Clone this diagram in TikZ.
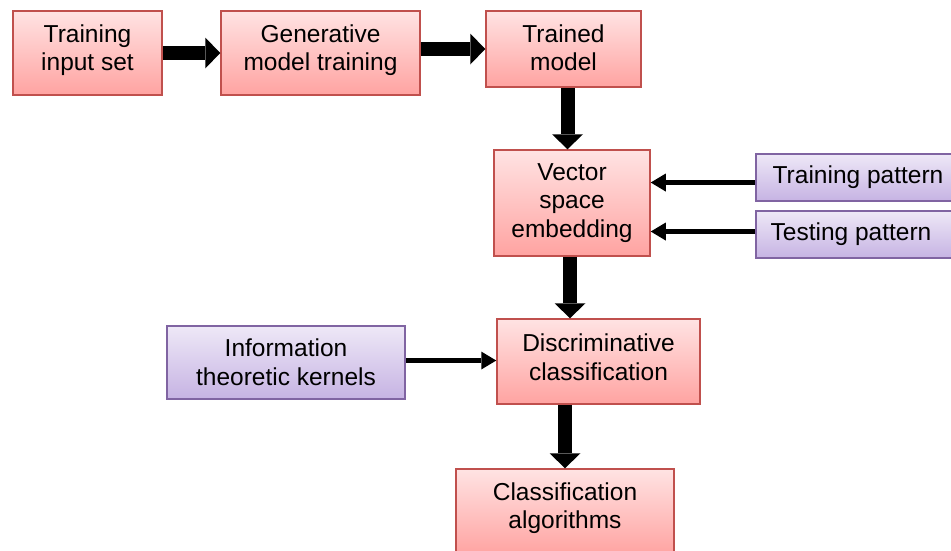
\documentclass[tikz,border=0pt]{standalone}
\usepackage{fontspec}
\setmainfont{Liberation Sans}
\usetikzlibrary{arrows.meta}
\definecolor{redtop}{HTML}{FFE3E3}
\definecolor{redbot}{HTML}{FFA3A1}
\definecolor{redline}{HTML}{C0504D}
\definecolor{purtop}{HTML}{EEE8F7}
\definecolor{purbot}{HTML}{C6B3E3}
\definecolor{purline}{HTML}{8064A2}
\newcommand\mybt[2]{\raisebox{#1}[\height][\depth]{\begin{tabular}{@{}c@{}}#2\end{tabular}}}
\tikzset{
  redbox/.style={draw=redline, line width=1.5pt, top color=redtop, bottom color=redbot,
    align=center, inner sep=0pt, font=\fontsize{24.5}{28.5}\selectfont},
  purbox/.style={draw=purline, line width=1.5pt, top color=purtop, bottom color=purbot,
    align=center, inner sep=0pt, font=\fontsize{24.5}{28.5}\selectfont},
  bigarrow/.style={line width=14pt, -{Triangle[width=31pt,length=15pt,line width=0pt]}},
  thinarrow/.style={line width=5pt, -{Triangle[width=18pt,length=15pt,line width=0pt]}}
}
\begin{document}
\begin{tikzpicture}[x=1pt,y=-1pt]
\useasboundingbox (0,0) rectangle (951,550);
\node[redbox, minimum width=149pt, minimum height=84pt] (tis) at (87.5,53) {\mybt{2pt}{Training\\input set}};
\node[redbox, minimum width=199pt, minimum height=84pt] (gmt) at (320.5,53) {\mybt{2pt}{Generative\\model training}};
\node[redbox, minimum width=155pt, minimum height=76pt] (tm) at (563.5,49) {\mybt{-2pt}{Trained\\model}};
\node[redbox, minimum width=156pt, minimum height=106pt] (vse) at (572,203) {\mybt{0pt}{Vector\\space\\embedding}};
\node[purbox, minimum width=204pt, minimum height=47pt] (trp) at (858,177.5) {Training pattern};
\node[purbox, minimum width=204pt, minimum height=47pt] (tsp) at (858,234.5) {Testing pattern\hspace*{14pt}};
\node[redbox, minimum width=203pt, minimum height=85pt] (dc) at (598.5,361.5) {\mybt{1pt}{Discriminative\\classification}};
\node[purbox, minimum width=238pt, minimum height=73pt] (itk) at (286,362.5) {\mybt{-3pt}{Information\\theoretic kernels}};
\node[redbox, minimum width=218pt, minimum height=86pt] (ca) at (565,512) {\mybt{3pt}{Classification\\algorithms}};

\draw[bigarrow] (tis.east) -- (gmt.west);
\draw[bigarrow] (gmt.east |- tm.center) -- (tm.west);
\draw[bigarrow] ([xshift=4pt]tm.south) -- ([xshift=4pt]tm.south |- vse.north);
\draw[bigarrow] ([xshift=-2pt]vse.south) -- ([xshift=-2pt]vse.south |- dc.north);
\draw[bigarrow] (ca.north |- dc.south) -- (ca.north);
\draw[thinarrow] ([yshift=-5pt]trp.west) -- ([yshift=-5pt]trp.west -| vse.east);
\draw[thinarrow] ([yshift=3pt]tsp.west) -- ([yshift=3pt]tsp.west -| vse.east);
\draw[thinarrow] ([yshift=2pt]itk.east) -- ([yshift=2pt]itk.east -| dc.west);
\end{tikzpicture}
\end{document}
